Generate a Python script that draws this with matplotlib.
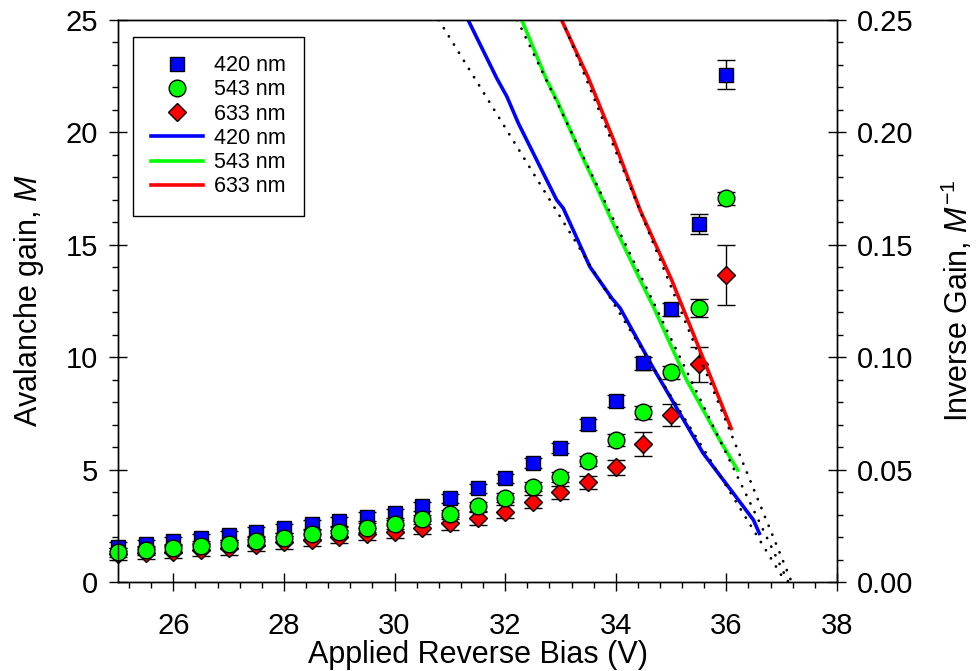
import numpy as np
import matplotlib
matplotlib.use('Agg')
from matplotlib import pyplot as plt
from matplotlib.lines import Line2D
from matplotlib.ticker import FixedLocator, MultipleLocator, FormatStrFormatter

plt.rcParams['font.family'] = 'Liberation Sans'
plt.rcParams['mathtext.fontset'] = 'custom'
plt.rcParams['mathtext.rm'] = 'Liberation Sans'
plt.rcParams['mathtext.it'] = 'Liberation Sans:italic'

# applied reverse bias (V) for the gain points
bias = [25.0, 25.5, 26.0, 26.5, 27.0, 27.5, 28.0, 28.5, 29.0, 29.5, 30.0, 30.5,
        31.0, 31.5, 32.0, 32.5, 33.0, 33.5, 34.0, 34.5, 35.0, 35.5, 36.0]

gain_420 = [1.57, 1.69, 1.81, 1.94, 2.09, 2.24, 2.39, 2.57, 2.71, 2.90, 3.06, 3.38,
            3.72, 4.17, 4.61, 5.28, 5.95, 7.01, 8.05, 9.73, 12.13, 15.93, 22.56]
gain_543 = [1.32, 1.42, 1.50, 1.62, 1.69, 1.82, 1.97, 2.12, 2.24, 2.42, 2.57, 2.79,
            3.01, 3.38, 3.75, 4.24, 4.69, 5.40, 6.32, 7.55, 9.33, 12.20, 17.07]
gain_633 = [1.25, 1.30, 1.35, 1.42, 1.50, 1.65, 1.76, 1.87, 2.02, 2.14, 2.24, 2.42,
            2.61, 2.83, 3.13, 3.57, 3.99, 4.43, 5.10, 6.14, 7.43, 9.68, 13.66]

err_420 = [0.20, 0.20, 0.20, 0.20, 0.20, 0.20, 0.20, 0.20, 0.20, 0.20, 0.20, 0.20,
           0.20, 0.20, 0.20, 0.22, 0.22, 0.25, 0.28, 0.30, 0.30, 0.43, 0.65]
err_543 = [0.20, 0.20, 0.20, 0.20, 0.20, 0.20, 0.20, 0.20, 0.20, 0.20, 0.20, 0.20,
           0.20, 0.20, 0.20, 0.20, 0.22, 0.22, 0.25, 0.28, 0.30, 0.40, 0.30]
err_633 = [0.28, 0.28, 0.28, 0.28, 0.28, 0.28, 0.28, 0.28, 0.28, 0.28, 0.28, 0.28,
           0.28, 0.28, 0.28, 0.28, 0.30, 0.30, 0.32, 0.54, 0.50, 0.77, 1.35]

# inverse gain traces (right axis)
inv_x_420 = [31.33, 31.85, 32.03, 32.24, 32.93, 33.05, 33.23, 33.53, 33.93, 34.08,
             34.68, 35.58, 36.49, 36.61]
inv_y_420 = [0.250, 0.2240, 0.2160, 0.204, 0.170, 0.1663, 0.1566, 0.1403, 0.1262, 0.1218,
             0.0951, 0.0573, 0.0276, 0.0209]
inv_x_543 = [32.30, 32.75, 32.96, 33.35, 33.65, 33.95, 34.44, 34.68, 35.28, 35.88, 36.22]
inv_y_543 = [0.250, 0.2234, 0.213, 0.1915, 0.176, 0.1596, 0.1344, 0.1225, 0.0899, 0.0632, 0.0491]
inv_x_633 = [33.02, 33.50, 33.96, 34.44, 34.65, 35.01, 35.52, 36.10]
inv_y_633 = [0.250, 0.2245, 0.1967, 0.1655, 0.154, 0.1344, 0.1032, 0.0676]

# linear fits of inverse gain: bias at 1/M = 0.25 and at 1/M = 0
fit_x_420 = [30.80, 37.07]
fit_x_543 = [32.22, 37.12]
fit_x_633 = [33.03, 37.18]
fit_y = [0.25, 0.0]

labels = ['420 nm', '543 nm', '633 nm']
colors = ['#0000ff', '#00ff00', '#ff0000']

fig = plt.figure(figsize=(9.78, 6.71), dpi=100)
ax = fig.add_axes([0.1207, 0.1326, 0.7351, 0.8376])
ax2 = ax.twinx()

ebkw = dict(fmt='none', ecolor='black', elinewidth=1.0, capsize=6.2, capthick=1.0, clip_on=False)
for g, e, z in [(gain_420, err_420, 2), (gain_633, err_633, 3), (gain_543, err_543, 4)]:
    ax.errorbar(bias, g, yerr=e, zorder=z, **ebkw)

mkw = dict(linestyle='none', markeredgecolor='black', markeredgewidth=1.0, clip_on=False)
ax.plot(bias, gain_420, marker='s', markersize=10.6, markerfacecolor=colors[0], zorder=2.5, **mkw)
ax.plot(bias, gain_633, marker='D', markersize=9.5, markerfacecolor=colors[2], zorder=3.5, **mkw)
ax.plot(bias, gain_543, marker='o', markersize=12, markerfacecolor=colors[1], zorder=4.5, **mkw)

ax2.plot(inv_x_420, inv_y_420, color=colors[0], lw=2.6, solid_capstyle='butt')
ax2.plot(inv_x_543, inv_y_543, color=colors[1], lw=2.6, solid_capstyle='butt')
ax2.plot(inv_x_633, inv_y_633, color=colors[2], lw=2.6, solid_capstyle='butt')
for fx in [fit_x_420, fit_x_543, fit_x_633]:
    ax2.plot(fx, fit_y, color='black', lw=2.0, dashes=(0.05, 3.4), dash_capstyle='round')

ax.set_xlim(25, 38)
ax.set_ylim(0, 25)
ax2.set_ylim(0, 0.25)

ax.xaxis.set_major_locator(FixedLocator([26, 28, 30, 32, 34, 36, 38]))
ax.xaxis.set_minor_locator(FixedLocator([v for v in np.arange(25.2, 38.0, 0.4)
                                         if abs(v / 2 - round(v / 2)) > 0.01]))
ax.yaxis.set_major_locator(MultipleLocator(5))
ax.yaxis.set_minor_locator(MultipleLocator(1))
ax2.yaxis.set_major_locator(MultipleLocator(0.05))
ax2.yaxis.set_minor_locator(MultipleLocator(0.01))
ax2.yaxis.set_major_formatter(FormatStrFormatter('%.2f'))

ax.tick_params(which='major', direction='inout', length=12.5, width=1, labelsize=21, pad=8,
               top=False, right=False)
ax.tick_params(axis='x', which='major', pad=15)
ax.tick_params(which='minor', direction='out', length=4, width=1, top=False, right=False)
ax2.tick_params(which='major', direction='inout', length=12.5, width=1, labelsize=21, pad=8)
ax2.tick_params(which='minor', direction='out', length=4, width=1)

for a in (ax, ax2):
    for s in a.spines.values():
        s.set_linewidth(1.0)

ax.set_xlabel('Applied Reverse Bias (V)', fontsize=22, labelpad=0)
ax.set_ylabel(r'Avalanche gain, $\mathit{M}$', fontsize=22, labelpad=14)
ax2.set_ylabel(r'Inverse Gain, $\mathit{M}^{-1}$', fontsize=22, labelpad=19)

handles = [
    Line2D([], [], linestyle='none', marker='s', markersize=10.6, markerfacecolor=colors[0], markeredgecolor='black'),
    Line2D([], [], linestyle='none', marker='o', markersize=12, markerfacecolor=colors[1], markeredgecolor='black'),
    Line2D([], [], linestyle='none', marker='D', markersize=9.5, markerfacecolor=colors[2], markeredgecolor='black'),
    Line2D([], [], color=colors[0], lw=2.6),
    Line2D([], [], color=colors[1], lw=2.6),
    Line2D([], [], color=colors[2], lw=2.6),
]
leg = ax2.legend(handles, labels + labels, loc='upper left', bbox_to_anchor=(0.021, 0.970),
                 borderaxespad=0, fontsize=15.5, frameon=True, fancybox=False, framealpha=1,
                 edgecolor='black', handlelength=2.4, handletextpad=0.5, labelspacing=0.15,
                 borderpad=0.85)
leg.get_frame().set_linewidth(1.0)

fig.savefig('out.png', dpi=100)
